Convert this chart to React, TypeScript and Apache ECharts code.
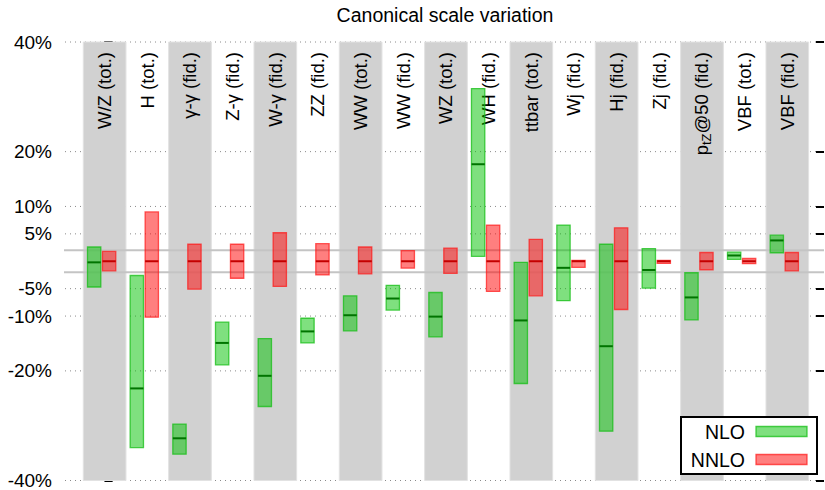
import React, { useEffect, useRef } from "react";
import * as echarts from "echarts";

const categories = [
  "W/Z (tot.)", "H (tot.)", "γ-γ (fid.)", "Z-γ (fid.)", "W-γ (fid.)", "ZZ (fid.)",
  "WW (tot.)", "WW (fid.)", "WZ (tot.)", "WH (fid.)", "ttbar (tot.)", "Wj (fid.)",
  "Hj (fid.)", "Zj (fid.)", "{p|p}{sub|tZ}{p|@50 (fid.)}", "VBF (tot.)", "VBF (fid.)",
];

// NLO: [low, high, central] in %
const nloLow = [-4.7, -34.0, -35.2, -18.9, -26.5, -14.9, -12.7, -8.9, -13.8, 0.9, -22.3, -7.2, -31.0, -4.9, -10.7, 0.35, 1.55];
const nloHigh = [2.6, -2.6, -29.7, -11.1, -14.1, -10.4, -6.3, -4.4, -5.7, 31.5, -0.2, 6.6, 3.1, 2.3, -2.1, 1.65, 4.75];
const nloCentral = [-0.2, -23.2, -32.3, -14.9, -20.9, -12.8, -9.85, -6.8, -10.1, 17.7, -10.8, -1.2, -15.5, -1.6, -6.6, 1.05, 3.8];

// NNLO
const nnloLow = [-1.75, -10.2, -5.1, -3.1, -4.6, -2.5, -2.3, -1.25, -2.2, -5.5, -6.3, -1.1, -8.8, -0.4, -1.55, -0.45, -1.75];
const nnloHigh = [1.8, 9.0, 3.1, 3.1, 5.2, 3.2, 2.6, 1.95, 2.4, 6.6, 4.0, 0.15, 6.1, 0.15, 1.6, 0.5, 1.6];
const nnloCentral = [0, 0, 0, 0, 0, 0, 0, 0, 0, 0, 0, 0, 0, 0, 0, 0, 0];

const yTicks = [-40, -20, -10, -5, 5, 10, 20, 40];
const refLines = [2, -2];

const FONT = "'Liberation Sans', Arial, Helvetica, sans-serif";

const NLO_FILL = "rgba(0,194,0,0.5)";
const NLO_STROKE = "rgba(20,190,20,0.75)";
const NLO_MID = "#007400";
const NNLO_FILL = "rgba(255,0,0,0.5)";
const NNLO_STROKE = "rgba(255,20,20,0.7)";
const NNLO_MID = "#c40000";

function barRenderer(offset: number, fill: string, stroke: string, mid: string) {
  return (params: any, api: any) => {
    const i = api.value(0);
    const lo = api.value(1);
    const hi = api.value(2);
    const c = api.value(3);
    const unit = api.size([1, 0])[0];
    const w = 0.312 * unit;
    const xc = api.coord([i, 0])[0] + offset * unit;
    const yTop = api.coord([i, hi])[1];
    const yBot = api.coord([i, lo])[1];
    const yc = api.coord([i, c])[1];
    return {
      type: "group",
      children: [
        {
          type: "rect",
          shape: { x: xc - w / 2, y: yTop, width: w, height: Math.max(yBot - yTop, 1) },
          style: { fill, stroke, lineWidth: 1.3 },
        },
        {
          type: "line",
          shape: { x1: xc - w / 2, y1: yc, x2: xc + w / 2, y2: yc },
          style: { stroke: mid, lineWidth: 2 },
        },
      ],
    };
  };
}

export default function App() {
  const ref = useRef<HTMLDivElement>(null);

  useEffect(() => {
    if (!ref.current) return;
    const chart = echarts.init(ref.current, null, { renderer: "svg" });

    const idx = categories.map((_, i) => i);
    const bandIdx = idx.filter((i) => i % 2 === 0);

    const option: any = {
      animation: false,
      grid: { left: 63, right: 1, top: 42, bottom: 8, containLabel: false },
      xAxis: {
        type: "value",
        min: -0.976,
        max: 16.86,
        show: false,
      },
      yAxis: [
        {
          type: "value",
          min: -40,
          max: 40,
          interval: 5,
          position: "left",
          axisLine: { show: true, lineStyle: { color: "#000", width: 2 } },
          axisTick: {
            show: true,
            inside: true,
            length: 8,
            customValues: yTicks,
            lineStyle: { color: "#000", width: 2 },
          },
          axisLabel: {
            customValues: yTicks,
            formatter: (v: number) => `${v}%`,
            color: "#000",
            fontSize: 19,
            fontFamily: FONT,
            margin: 11,
          },
          splitLine: { show: false },
        },
        {
          type: "value",
          min: -40,
          max: 40,
          interval: 5,
          position: "right",
          axisLine: { show: false },
          axisTick: {
            show: true,
            inside: true,
            length: 8,
            customValues: yTicks,
            lineStyle: { color: "#000", width: 2 },
          },
          axisLabel: { show: false },
          splitLine: { show: false },
        },
      ],
      series: [
        {
          name: "grid",
          type: "custom",
          z: 0,
          silent: true,
          data: yTicks.map((v) => [0, v]),
          renderItem: (params: any, api: any) => {
            const cs = params.coordSys;
            const y = api.coord([0, api.value(1)])[1];
            return {
              type: "line",
              shape: { x1: cs.x + 2, y1: y, x2: cs.x + cs.width, y2: y },
              style: { stroke: "#8a8a8a", lineWidth: 1, lineDash: [1, 4] },
            };
          },
        },
        {
          name: "bands",
          type: "custom",
          z: 1,
          silent: true,
          data: bandIdx.map((i) => [i]),
          renderItem: (params: any, api: any) => {
            const i = api.value(0);
            const p1 = api.coord([i - 0.5, 40]);
            const p2 = api.coord([i + 0.5, -40]);
            return {
              type: "rect",
              shape: { x: p1[0], y: p1[1], width: p2[0] - p1[0], height: p2[1] - p1[1] },
              style: { fill: "#d1d1d1", stroke: "#e2e2e2", lineWidth: 1 },
            };
          },
        },
        {
          name: "ref",
          type: "custom",
          z: 2,
          silent: true,
          data: refLines.map((v) => [0, v]),
          renderItem: (params: any, api: any) => {
            const cs = params.coordSys;
            const y = api.coord([0, api.value(1)])[1];
            return {
              type: "line",
              shape: { x1: cs.x + 1, y1: y, x2: cs.x + cs.width, y2: y },
              style: { stroke: "#c4c4c4", lineWidth: 2 },
            };
          },
        },
        {
          name: "labels",
          type: "custom",
          z: 3,
          silent: true,
          data: idx.map((i) => [i]),
          renderItem: (params: any, api: any) => {
            const i = api.value(0);
            const p = api.coord([i, 40]);
            return {
              type: "text",
              x: p[0],
              y: p[1] + 10,
              rotation: Math.PI / 2,
              style: {
                text: categories[i],
                align: "right",
                verticalAlign: "middle",
                fontSize: 18.5,
                fontFamily: FONT,
                fill: "#000",
                rich: {
                  p: { fontSize: 18.5, fontFamily: FONT, fill: "#000", lineHeight: 22, verticalAlign: "middle" },
                  sub: { fontSize: 13, fontFamily: FONT, fill: "#000", lineHeight: 13, verticalAlign: "bottom", padding: [0, 0, 0, 0] },
                },
              },
            };
          },
        },
        {
          name: "NLO",
          type: "custom",
          z: 4,
          silent: true,
          data: idx.map((i) => [i, nloLow[i], nloHigh[i], nloCentral[i]]),
          encode: { x: 0, y: [1, 2] },
          renderItem: barRenderer(-0.246, NLO_FILL, NLO_STROKE, NLO_MID),
        },
        {
          name: "NNLO",
          type: "custom",
          z: 4,
          silent: true,
          data: idx.map((i) => [i, nnloLow[i], nnloHigh[i], nnloCentral[i]]),
          encode: { x: 0, y: [1, 2] },
          renderItem: barRenderer(0.105, NNLO_FILL, NNLO_STROKE, NNLO_MID),
        },
      ],
      graphic: [
        {
          type: "text",
          x: 445,
          y: 15,
          z: 100,
          style: {
            text: "Canonical scale variation",
            align: "center",
            verticalAlign: "middle",
            fontSize: 19.5,
            fontFamily: FONT,
            fill: "#000",
          },
        },
        {
          type: "rect",
          z: 100,
          shape: { x: 681, y: 417, width: 136, height: 57 },
          style: { fill: "#fff", stroke: "#000", lineWidth: 2 },
        },
        {
          type: "text",
          z: 101,
          x: 745,
          y: 432,
          style: { text: "NLO", align: "right", verticalAlign: "middle", fontSize: 19.5, fontFamily: FONT, fill: "#000" },
        },
        {
          type: "rect",
          z: 101,
          shape: { x: 756, y: 426.5, width: 51, height: 10 },
          style: { fill: NLO_FILL, stroke: NLO_STROKE, lineWidth: 1.3 },
        },
        {
          type: "text",
          z: 101,
          x: 745,
          y: 459.5,
          style: { text: "NNLO", align: "right", verticalAlign: "middle", fontSize: 19.5, fontFamily: FONT, fill: "#000" },
        },
        {
          type: "rect",
          z: 101,
          shape: { x: 756, y: 454.5, width: 51, height: 10 },
          style: { fill: NNLO_FILL, stroke: NNLO_STROKE, lineWidth: 1.3 },
        },
      ],
    };

    chart.setOption(option);
    return () => chart.dispose();
  }, []);

  return (
    <div
      ref={ref}
      style={{ position: "fixed", left: 0, top: 0, width: 825, height: 490, background: "#fff" }}
    />
  );
}
